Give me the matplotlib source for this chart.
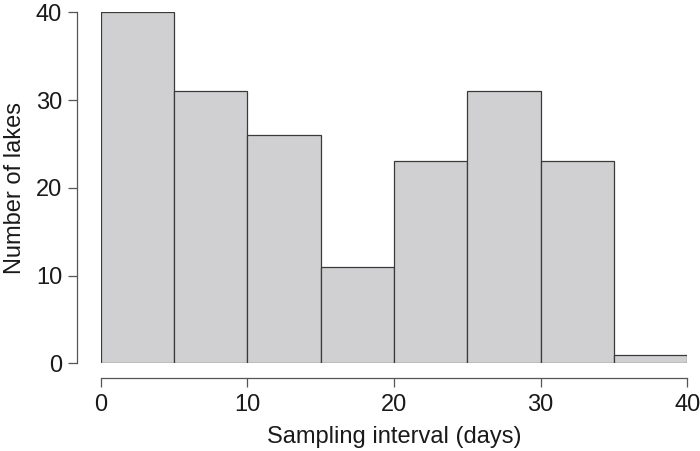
import matplotlib
matplotlib.use('Agg')
import matplotlib.pyplot as plt

plt.rcParams['font.family'] = ['Liberation Sans', 'DejaVu Sans']

bin_edges = [0, 5, 10, 15, 20, 25, 30, 35, 40]
counts = [40, 31, 26, 11, 23, 31, 23, 1]
x_ticks = [0, 10, 20, 30, 40]
y_ticks = [0, 10, 20, 30, 40]

fig = plt.figure(figsize=(7, 4.51), dpi=100)
ax = fig.add_axes([0.1439, 0.1945, 0.838, 0.7783])

lefts = bin_edges[:-1]
widths = [b - a for a, b in zip(bin_edges[:-1], bin_edges[1:])]
ax.bar(lefts, counts, width=widths, align='edge', color='#d0d0d2',
       edgecolor='#3a3a3a', linewidth=0.9)

ax.set_xlim(0, 40)
ax.set_ylim(0, 40)

for s in ['top', 'right']:
    ax.spines[s].set_visible(False)
ax.spines['left'].set_position(('outward', 17.3))
ax.spines['bottom'].set_position(('outward', 10.4))
for s in ['left', 'bottom']:
    ax.spines[s].set_color('#555555')
    ax.spines[s].set_linewidth(0.9)
ax.spines['left'].set_bounds(0, 40)
ax.spines['bottom'].set_bounds(0, 40)

ax.set_xticks(x_ticks)
ax.set_yticks(y_ticks)
ax.tick_params(length=6.5, width=0.9, color='#555555', labelsize=17,
               labelcolor='#1a1a1a')
ax.tick_params(axis='x', pad=5)
ax.tick_params(axis='y', pad=4)

ax.set_xlabel('Sampling interval (days)', fontsize=17, color='#1a1a1a')
ax.set_ylabel('Number of lakes', fontsize=17, color='#1a1a1a')
ax.xaxis.set_label_coords(0.5, -0.179)
ax.yaxis.set_label_coords(-0.128, 0.5)

fig.savefig('out.png', dpi=100)
